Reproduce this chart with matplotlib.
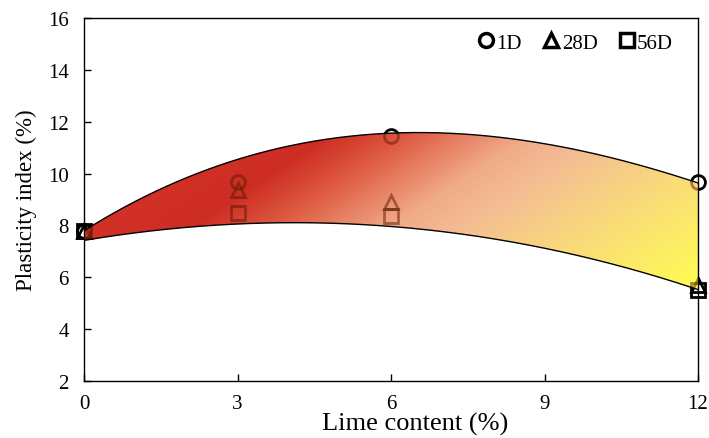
import numpy as np
import matplotlib
matplotlib.use('Agg')
import matplotlib.pyplot as plt
import matplotlib.colors as mcolors
from matplotlib.patches import Polygon
from matplotlib.lines import Line2D

plt.rcParams['font.family'] = ['Liberation Serif', 'DejaVu Serif']

# measured data
lime = [0, 3, 6, 12]
pi_1d = [7.8, 9.66, 11.46, 9.69]
pi_28d = [7.8, 9.35, 8.9, 5.7]
pi_56d = [7.8, 8.48, 8.35, 5.52]

# points
upper_x = [0, 1, 3, 5.4, 6.8, 9.75, 12]
upper_y = [7.85, 8.9, 10.4, 11.6, 11.68, 10.7, 9.7]
lower_x = [0, 3, 5.2, 6, 7.35, 9, 12]
lower_y = [7.45, 7.94, 8.12, 8.06, 7.67, 7.03, 5.55]

xticks = [0, 3, 6, 9, 12]
yticks = [2, 4, 6, 8, 10, 12, 14, 16]

# smooth band edges
xs = np.linspace(0, 12, 300)
up = np.polyval(np.polyfit(upper_x, upper_y, 3), xs)
lo = np.polyval(np.polyfit(lower_x, lower_y, 3), xs)

fig = plt.figure(figsize=(7.09, 4.39), dpi=100)
ax = fig.add_axes([0.1185, 0.1298, 0.866, 0.8269])
ax.set_xlim(0, 12)
ax.set_ylim(2, 16)

# black markers underneath
mk = dict(ls='', ms=10, mfc='none', mew=2)
ax.plot(lime, pi_1d, marker='o', color='black', zorder=1, clip_on=False, **mk)
ax.plot(lime, pi_28d, marker='^', color='black', zorder=1, clip_on=False, **mk)
ax.plot(lime, pi_56d, marker='s', color='black', zorder=1, clip_on=False, **mk)

# gradient band
verts = np.vstack([np.column_stack([xs, up]), np.column_stack([xs[::-1], lo[::-1]])])
poly = Polygon(verts, closed=True, facecolor='none', edgecolor='none')
ax.add_patch(poly)

stops = [(300, (210, 50, 38)), (420, (205, 45, 35)), (500, (222, 90, 65)),
         (620, (240, 170, 136)), (690, (244, 188, 148)), (830, (249, 218, 122)),
         (1030, (255, 255, 80))]
s0, s1 = stops[0][0], stops[-1][0]
cmap = mcolors.LinearSegmentedColormap.from_list(
    'band', [((s - s0) / (s1 - s0), tuple(c / 255 for c in col)) for s, col in stops])

gx, gy = np.meshgrid(np.linspace(0, 12, 400), np.linspace(16, 2, 400))
s = gx / 12 * 614 + 1.5 * (16 - gy) / 14 * 363
img = ax.imshow((s - s0) / (s1 - s0), extent=[0, 12, 2, 16], origin='upper',
                aspect='auto', cmap=cmap, vmin=0, vmax=1, zorder=2,
                interpolation='bilinear')
img.set_clip_path(poly)

# darkened markers seen through the band
for yv, m in [(pi_1d, 'o'), (pi_28d, '^'), (pi_56d, 's')]:
    ln, = ax.plot(lime, yv, marker=m, color='#5a1a00', alpha=0.5, zorder=3, **mk)
    ln.set_clip_path(poly)

ax.plot(xs, up, color='black', lw=1, zorder=4)
ax.plot(xs, lo, color='black', lw=1, zorder=4)

ax.set_xticks(xticks)
ax.set_yticks(yticks)
ax.tick_params(direction='in', length=5, labelsize=15, width=1)
ax.tick_params(axis='x', pad=9)
ax.tick_params(axis='y', pad=11)
for sp in ax.spines.values():
    sp.set_linewidth(1)
ax.set_xlabel('Lime content (%)', fontsize=19, labelpad=0)
ax.xaxis.set_label_coords((415 - 84) / 614, -0.085)
ax.set_ylabel('Plasticity index (%)', fontsize=16.5, labelpad=8)

handles = [Line2D([], [], ls='', marker=m, ms=10, mfc='none', mec='black', mew=2.5)
           for m in ['o', '^', 's']]
ax.legend(handles, ['1D', '28D', '56D'], ncol=3, frameon=False, loc='upper right',
          fontsize=15, handlelength=0.6, handletextpad=0.2, columnspacing=1.1,
          bbox_to_anchor=(0.99, 1.01))

fig.savefig('out.png', dpi=100)
